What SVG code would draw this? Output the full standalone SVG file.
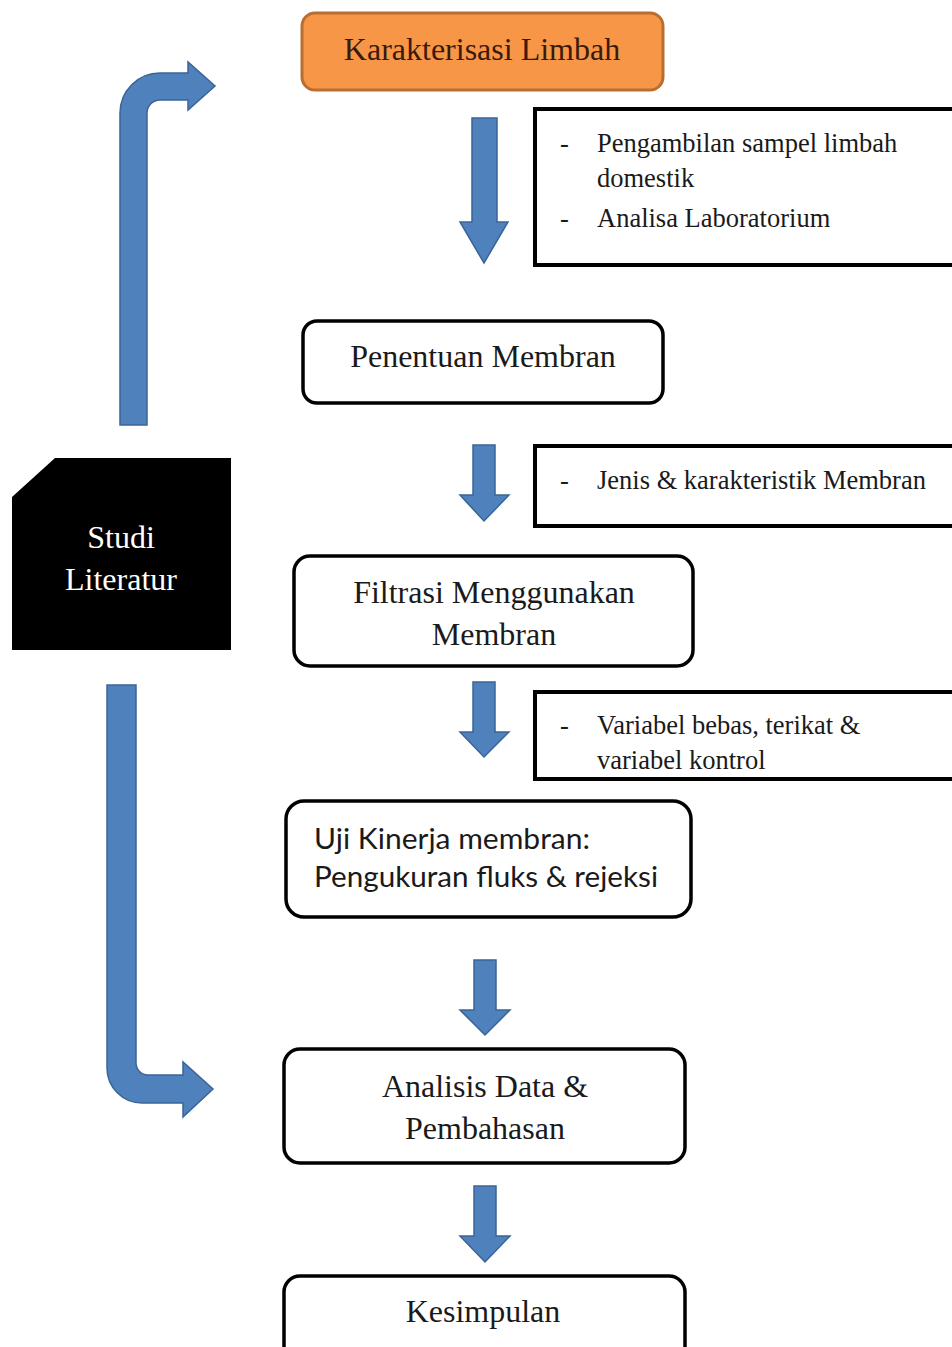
<svg xmlns="http://www.w3.org/2000/svg" width="952" height="1347" viewBox="0 0 952 1347">
<defs>
<style>
.box{fill:#ffffff;stroke:#000000;stroke-width:3.5}
.note{fill:#ffffff;stroke:#000000;stroke-width:4}
.arrow{fill:#4F81BD;stroke:#3A6496;stroke-width:1.5}
.serif{font-family:"Liberation Serif","Times New Roman",serif;fill:#1a1a1a}
.big{font-size:32px}
.small{font-size:26.5px}
.sans{font-family:Lato,"Open Sans",sans-serif;font-size:28px;fill:#1a1a1a}
</style>
</defs>
<rect width="952" height="1347" fill="#ffffff"/>
<g id="connectors">
<path class="arrow" d="M120,425 L120,113 A40,40 0 0 1 160,73 L188,73 L188,62 L215,86 L188,110 L188,100 L160,100 A13,13 0 0 0 147,113 L147,425 Z"/>
<path class="arrow" d="M107,685 L136,685 L136,1063 A12,12 0 0 0 148,1075 L183,1075 L183,1062 L213,1089 L183,1117 L183,1103 L142,1103 A35,35 0 0 1 107,1068 Z"/>
<path class="arrow" d="M472,118 L497,118 L497,222 L508,222 L484,263 L460,222 L472,222 Z"/>
<path class="arrow" d="M473,445 L495,445 L495,495 L509,495 L484,521 L460,495 L473,495 Z"/>
<path class="arrow" d="M473,682 L495,682 L495,732 L509,732 L484,757 L460,732 L473,732 Z"/>
<path class="arrow" d="M474,960 L496,960 L496,1010 L510,1010 L485,1035 L460,1010 L474,1010 Z"/>
<path class="arrow" d="M474,1186 L496,1186 L496,1236 L510,1236 L485,1262 L460,1236 L474,1236 Z"/>
</g>
<g id="karakterisasi">
<rect x="302" y="13" width="361" height="77" rx="13" fill="#F79646" stroke="#B86E30" stroke-width="3"/>
<text class="serif big" x="482" y="60" text-anchor="middle" style="fill:#3a1a0c">Karakterisasi Limbah</text>
</g>
<g id="note1">
<rect class="note" x="535" y="109" width="430" height="156"/>
<text class="serif small" x="560" y="152">-</text>
<text class="serif small" x="597" y="152">Pengambilan sampel limbah</text>
<text class="serif small" x="597" y="187">domestik</text>
<text class="serif small" x="560" y="227">-</text>
<text class="serif small" x="597" y="227">Analisa Laboratorium</text>
</g>
<g id="penentuan">
<rect class="box" x="303" y="321" width="360" height="82" rx="14"/>
<text class="serif big" x="483" y="367" text-anchor="middle">Penentuan Membran</text>
</g>
<g id="studi">
<path d="M55,458 L231,458 L231,650 L12,650 L12,497 Z" fill="#000000"/>
<text class="serif big" x="121" y="548" text-anchor="middle" style="fill:#ffffff">Studi</text>
<text class="serif big" x="121" y="590" text-anchor="middle" style="fill:#ffffff">Literatur</text>
</g>
<g id="note2">
<rect class="note" x="535" y="446" width="430" height="80"/>
<text class="serif small" x="560" y="489">-</text>
<text class="serif small" x="597" y="489">Jenis &amp; karakteristik Membran</text>
</g>
<g id="filtrasi">
<rect class="box" x="294" y="556" width="399" height="110" rx="16"/>
<text class="serif big" x="494" y="603" text-anchor="middle">Filtrasi Menggunakan</text>
<text class="serif big" x="494" y="645" text-anchor="middle">Membran</text>
</g>
<g id="note3">
<rect class="note" x="535" y="692" width="430" height="87"/>
<text class="serif small" x="560" y="734">-</text>
<text class="serif small" x="597" y="734">Variabel bebas, terikat &amp;</text>
<text class="serif small" x="597" y="769">variabel kontrol</text>
</g>
<g id="uji">
<rect class="box" x="286" y="801" width="405" height="116" rx="18"/>
<text class="sans" x="314" y="849" textLength="276" lengthAdjust="spacingAndGlyphs">Uji Kinerja membran:</text>
<text class="sans" x="314" y="887" textLength="344" lengthAdjust="spacingAndGlyphs">Pengukuran fluks &amp; rejeksi</text>
</g>
<g id="analisis">
<rect class="box" x="284" y="1049" width="401" height="114" rx="16"/>
<text class="serif big" x="485" y="1097" text-anchor="middle">Analisis Data &amp;</text>
<text class="serif big" x="485" y="1139" text-anchor="middle">Pembahasan</text>
</g>
<g id="kesimpulan">
<rect class="box" x="284" y="1276" width="401" height="90" rx="16"/>
<text class="serif big" x="483" y="1322" text-anchor="middle">Kesimpulan</text>
</g>
</svg>
